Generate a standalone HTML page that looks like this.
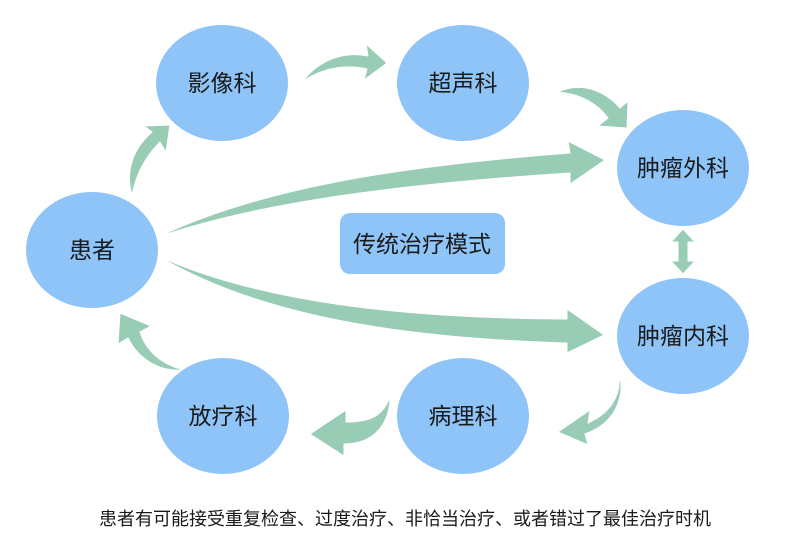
<!DOCTYPE html>
<html><head><meta charset="utf-8"><style>
html,body{margin:0;padding:0;background:#fff;}
svg{display:block;}
text{font-family:"Liberation Sans","Noto Sans CJK SC",sans-serif;fill:#1a1a1a;}
</style></head><body>
<svg width="791" height="540" viewBox="0 0 791 540" xmlns="http://www.w3.org/2000/svg">
<g fill="#99ccb5" stroke="#ffffff" stroke-width="1">
<!-- big upper arrow -->
<path d="M158,237 C260,188 400,166 570,153 L568,141 L605,160 L570,184 L570,173 C400,184 260,202 158,237 Z"/>
<!-- big lower arrow -->
<path d="M158,256 C260,302 400,318 567,319 L567,309 L604,335 L567,353 L567,343 C400,338 260,316 158,256 Z"/>
<!-- patient -> imaging -->
<path d="M132,195 C124,168 136,146 152,132 L144,126 L170,125 L166,152 L160,142 C146,156 136,174 132,195 Z"/>
<!-- imaging -> ultrasound -->
<path d="M302,82 C322,56 348,52 368,56 L366,44 L387,63 L364,80 L367,69 C345,64 322,68 302,82 Z"/>
<!-- ultrasound -> tumor surgery -->
<path d="M558,92 C585,80 608,94 620,108 L628,101 L627,128 L598,126 L608,118 C597,103 580,94 558,92 Z"/>
<!-- double arrow -->
<path d="M683,229 L695,242 L688,242 L688,261 L695,261 L683,274 L671,261 L678,261 L678,242 L671,242 Z"/>
<!-- internal -> pathology -->
<path d="M619,372 C622,398 608,414 588,423 L590,410 L558,432 L588,445 L585,434 C614,424 626,398 619,372 Z"/>
<!-- pathology -> radiotherapy -->
<path d="M390,396 C384,416 370,422 346,422 L346,410 L310,434 L344,456 L344,444 C374,444 390,424 390,396 Z"/>
<!-- radiotherapy -> patient -->
<path d="M184,370 C160,364 146,350 140,332 L151,326 L120,313 L118,344 L128,338 C138,358 158,372 184,370 Z"/>
</g>
<g fill="#8ec4f8">
<ellipse cx="92" cy="250" rx="66" ry="58"/>
<ellipse cx="222" cy="83" rx="66" ry="58"/>
<ellipse cx="463" cy="83" rx="66" ry="58"/>
<ellipse cx="683" cy="168" rx="66" ry="58"/>
<ellipse cx="683" cy="336" rx="66" ry="58"/>
<ellipse cx="463" cy="416" rx="66" ry="58"/>
<ellipse cx="223" cy="416" rx="66" ry="58"/>
<rect x="340" y="213" width="165" height="61" rx="10"/>
</g>
<g font-size="23" text-anchor="middle">
<text x="92" y="258">患者</text>
<text x="222" y="91">影像科</text>
<text x="463" y="91">超声科</text>
<text x="683" y="176">肿瘤外科</text>
<text x="683" y="344">肿瘤内科</text>
<text x="463" y="424">病理科</text>
<text x="223" y="424">放疗科</text>
<text x="422" y="252">传统治疗模式</text>
</g>
<text x="405" y="525" font-size="18" text-anchor="middle">患者有可能接受重复检查、过度治疗、非恰当治疗、或者错过了最佳治疗时机</text>
</svg>
</body></html>
